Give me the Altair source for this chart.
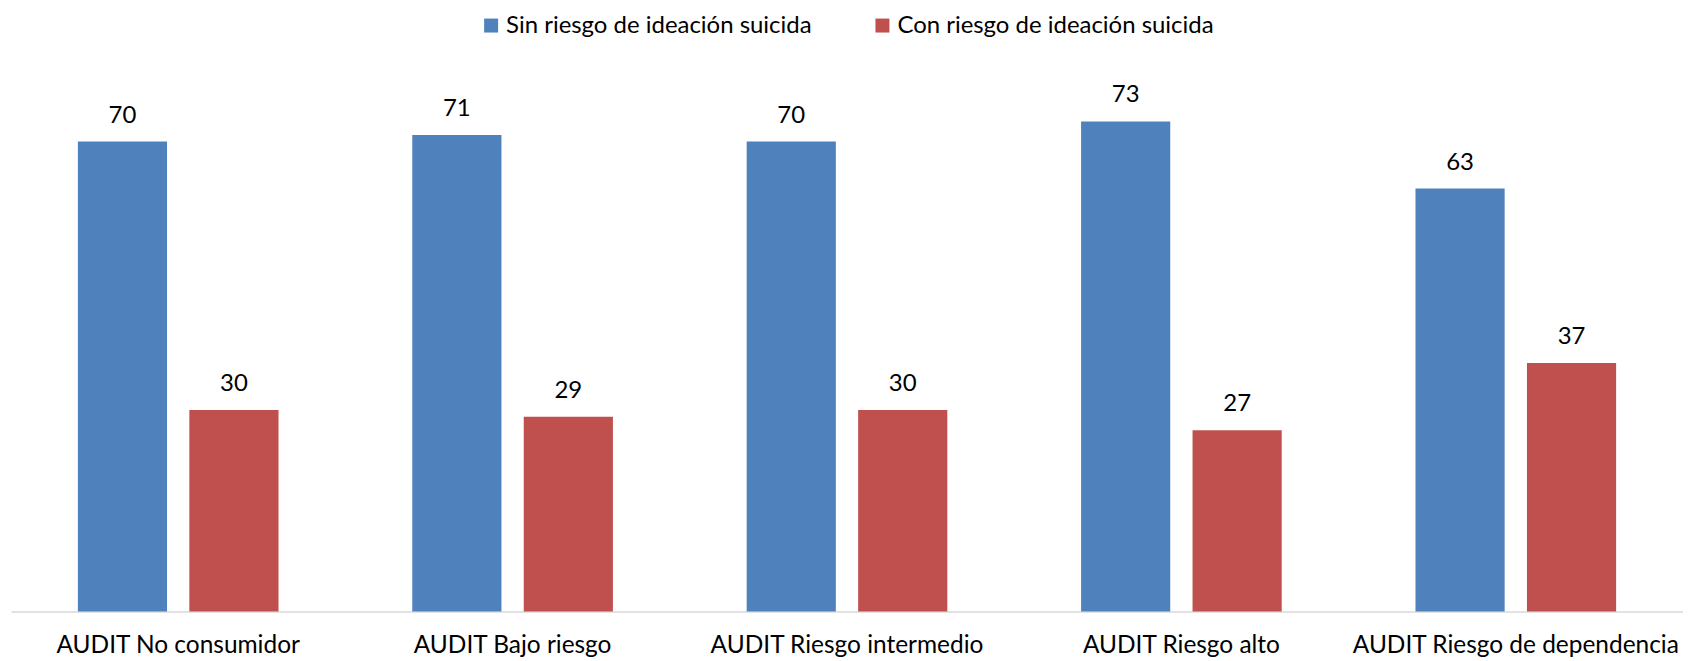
import altair as alt
import pandas as pd

categories = ["AUDIT No consumidor", "AUDIT Bajo riesgo", "AUDIT Riesgo intermedio",
              "AUDIT Riesgo alto", "AUDIT Riesgo de dependencia"]
series = ["Sin riesgo de ideación suicida", "Con riesgo de ideación suicida"]
sin_riesgo = [70, 71, 70, 73, 63]
con_riesgo = [30, 29, 30, 27, 37]
colors = ["#4F81BD", "#C0504D"]

rows = []
for i, c in enumerate(categories):
    rows.append({"cat": c, "serie": series[0], "val": sin_riesgo[i]})
    rows.append({"cat": c, "serie": series[1], "val": con_riesgo[i]})
df = pd.DataFrame(rows)

FONT = "Lato"

x = alt.X("cat:N", sort=categories, title=None,
          scale=alt.Scale(paddingInner=0.4, paddingOuter=0.2),
          axis=alt.Axis(labelAngle=0, ticks=False, domain=True, domainColor="#D9D9D9",
                        domainWidth=1.5, labelFont=FONT, labelFontSize=24.5,
                        labelColor="#000000", labelPadding=22, grid=False,
                        labelLimit=0))
xo = alt.XOffset("serie:N", sort=series, scale=alt.Scale(paddingInner=0.2))
y = alt.Y("val:Q", scale=alt.Scale(domain=[0, 80]), axis=None)

base = alt.Chart(df)

bars = base.mark_bar().encode(
    x=x, xOffset=xo, y=y,
    color=alt.Color("serie:N", sort=series,
                    scale=alt.Scale(domain=series, range=colors),
                    legend=alt.Legend(title=None, orient="none", legendX=469, legendY=-61,
                                      direction="horizontal", symbolType="square",
                                      symbolSize=196, symbolStrokeWidth=0,
                                      labelFont=FONT, labelFontSize=24, labelColor="#000000",
                                      columnPadding=58, symbolOffset=0, labelOffset=3,
                                      labelLimit=0)),
)

labels = base.mark_text(font=FONT, fontSize=24, color="#000000", baseline="alphabetic",
                        dy=-19).encode(
    x=x, xOffset=xo, y=y, text=alt.Text("val:Q"))

chart = (bars + labels).properties(
    width=1675, height=538,
    padding={"left": 3, "top": 66, "right": 0, "bottom": 49},
    autosize="none",
).configure_view(stroke=None)

chart.save("out.html", embed_options={"renderer": "svg", "actions": False})
